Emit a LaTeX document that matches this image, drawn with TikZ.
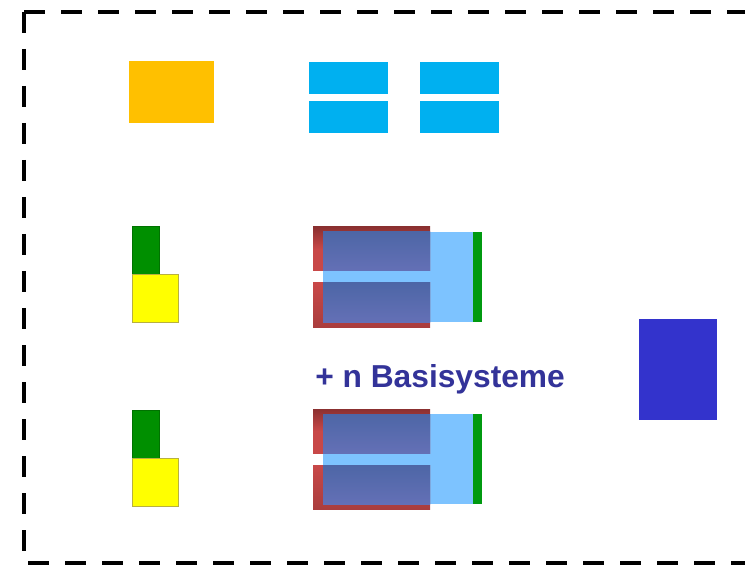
\documentclass[tikz,border=0pt]{standalone}
\usepackage{fontspec}
\setmainfont{Liberation Sans}
\definecolor{borange}{HTML}{FFC000}
\definecolor{bcyan}{HTML}{00B0F0}
\definecolor{bgreen}{HTML}{008F00}
\definecolor{bgreenbar}{HTML}{009A10}
\definecolor{byellow}{HTML}{FFFF00}
\definecolor{byedge}{HTML}{B8B040}
\definecolor{bred}{HTML}{C84848}
\definecolor{bdred}{HTML}{8B3030}
\definecolor{blight}{HTML}{7DC3FF}
\definecolor{bslatetop}{HTML}{4D66A6}
\definecolor{bslate}{HTML}{6470B6}
\definecolor{bblue}{HTML}{3333CC}
\definecolor{btext}{HTML}{333399}
\tikzset{
  border/.style={line width=3pt, dash pattern=on 15.75pt off 12pt, line cap=butt},
  cyanbox/.style={fill=bcyan},
  greenbox/.style={fill=bgreen, draw=bgreen!80!black, line width=0.4pt},
  yellowbox/.style={fill=byellow, draw=byedge, line width=0.6pt},
  redbox/.style={top color=bdred, bottom color=bred, middle color=bred},
  redboxb/.style={top color=bred, bottom color=bred!85!black},
  slatebox/.style={top color=bslatetop, bottom color=bslate},
  lightbox/.style={fill=blight},
  greenbar/.style={fill=bgreenbar},
}
\begin{document}
\begin{tikzpicture}[x=0.75pt,y=-0.75pt]
\useasboundingbox (0,0) rectangle (745,566);
\begin{scope}
\clip (0,0) rectangle (745,566);
\draw[border] (24,12) -- (770,12);
\draw[border] (24,12) -- (24,563) -- (770,563);
\end{scope}
% top row
\fill[borange] (129,61) rectangle (214,123);
\fill[cyanbox] (309,62) rectangle (388,94);
\fill[cyanbox] (309,101) rectangle (388,133);
\fill[cyanbox] (420,62) rectangle (499,94);
\fill[cyanbox] (420,101) rectangle (499,133);
% green/yellow pairs
\foreach \dy in {0,184}{
\begin{scope}[shift={(0,\dy)}]
\draw[greenbox] (132,226) rectangle (159,274);
\draw[yellowbox] (132,274) rectangle (178,322);
\end{scope}}
% two stacks
\foreach \dy in {0,182}{
\begin{scope}[shift={(0,\dy)}]
\fill[lightbox] (323,232) rectangle (473,322);
\fill[greenbar] (473,232) rectangle (482,322);
\shade[redbox] (313,227) rectangle (430,271);
\shade[redboxb] (313,283) rectangle (430,327);
\shade[slatebox] (323,232) rectangle (430,271);
\shade[slatebox] (323,283) rectangle (430,322);
\end{scope}}
\fill[bblue] (639,319) rectangle (717,420);
\node[anchor=base west, inner sep=0pt, text=btext, font=\fontsize{23.8}{28}\selectfont\bfseries] (label) at (315,387) {+ n Basisysteme};
\end{tikzpicture}
\end{document}
